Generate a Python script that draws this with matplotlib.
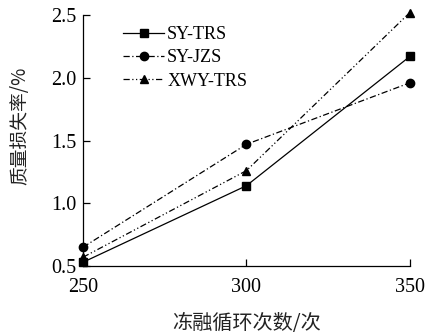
import matplotlib
matplotlib.use("Agg")
import matplotlib.pyplot as plt

cycles = [250, 300, 350]
sy_trs = [0.53, 1.14, 2.17]
sy_jzs = [0.65, 1.47, 1.96]
xwy_trs = [0.57, 1.26, 2.52]
labels = ["SY-TRS", "SY-JZS", "XWY-TRS"]
xticks = [250, 300, 350]
yticks = [0.5, 1.0, 1.5, 2.0, 2.5]

serif = ["Liberation Serif", "DejaVu Serif"]
cjk = ["Noto Sans CJK SC", "DejaVu Sans"]

fig = plt.figure(figsize=(4.26, 3.35), dpi=100)
ax = fig.add_axes([0.195, 0.206, 0.767, 0.749])

ax.plot(cycles, sy_trs, color="black", lw=0.9, ls="-", marker="s", ms=5.5, label=labels[0], clip_on=False)
ax.plot(cycles, sy_jzs, color="black", lw=0.9, ls=(0, (5, 2, 1, 2)), marker="o", ms=6, label=labels[1], clip_on=False)
ax.plot(cycles, xwy_trs, color="black", lw=0.9, ls=(0, (5, 2, 1, 2, 1, 2)), marker="^", ms=6, label=labels[2], clip_on=False)

ax.set_xlim(250, 350)
ax.set_ylim(0.5, 2.5)
ax.set_xticks(xticks)
ax.set_yticks(yticks)
ax.set_xticklabels([str(v) for v in xticks], family=serif, fontsize=14.5)
ax.set_yticklabels([f"{v:.1f}" for v in yticks], family=serif, fontsize=14.5)
ax.tick_params(direction="in", length=5, width=0.9)
ax.tick_params(axis="x", pad=9)
ax.tick_params(axis="y", pad=5)
for s in ["top", "right"]:
    ax.spines[s].set_visible(False)
for s in ["left", "bottom"]:
    ax.spines[s].set_linewidth(0.9)

ax.set_xlabel("冻融循环次数/次", family=cjk, fontsize=14.5, labelpad=11, color="#222222")
ax.set_ylabel("质量损失率/%", family=cjk, fontsize=13.5, labelpad=13, color="#222222")
ax.yaxis.set_label_coords(-0.16, 0.56)

leg = ax.legend(loc="upper left", bbox_to_anchor=(0.1, 0.985), frameon=False,
                prop={"family": serif, "size": 13}, handlelength=2.3,
                handletextpad=0.15, labelspacing=0.35, borderaxespad=0)

fig.savefig("out.png", dpi=100)
